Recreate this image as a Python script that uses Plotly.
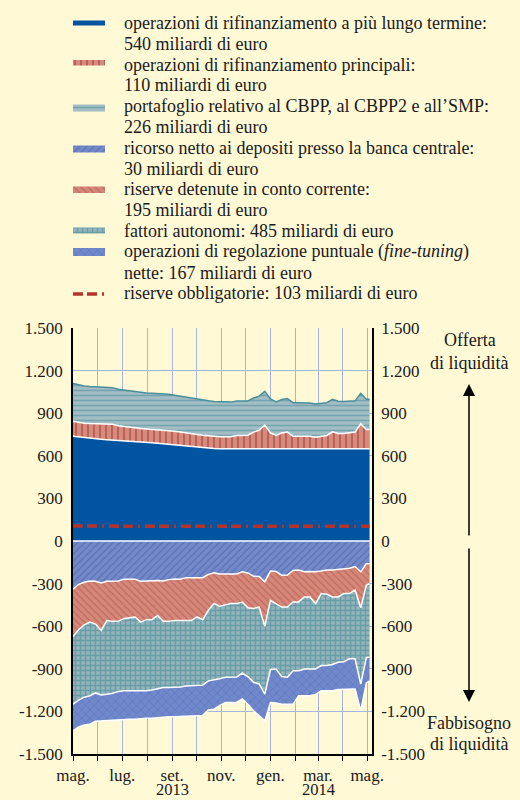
import plotly.graph_objects as go
import pandas as pd

# ---------------- data (miliardi di euro) ----------------
dates = list(pd.date_range("2013-05-01", periods=53, freq="7D").strftime("%Y-%m-%d")) + ["2014-05-04"]

ltro = [738, 733, 727, 722, 719, 716, 713, 711, 708, 706,
        704, 701, 699, 696, 692, 688, 684, 680, 676, 672,
        668, 664, 660, 656, 653, 651, 650, 650, 650, 650,
        650, 650, 650, 650, 650, 650, 650, 650, 650, 650,
        650, 650, 650, 650, 650, 650, 650, 650, 650, 650,
        650, 650, 650, 650]
mro = [106, 103, 103, 105, 107, 108, 109, 112, 104, 100,
       98, 96, 93, 93, 94, 96, 98, 100, 97, 95,
       92, 91, 90, 89, 87, 85, 84, 84, 84, 93,
       93, 95, 117, 131, 166, 112, 93, 110, 117, 88,
       88, 88, 88, 81, 85, 93, 119, 107, 107, 110,
       117, 176, 135, 135]
cbpp = [265, 263, 262, 261, 260, 259, 258, 257, 256, 256,
        255, 255, 255, 254, 254, 254, 253, 253, 253, 252,
        252, 251, 250, 249, 248, 247, 246, 245, 244, 243,
        242, 241, 240, 239, 238, 238, 237, 237, 236, 236,
        236, 235, 234, 233, 232, 231, 229, 227, 226, 224,
        220, 214, 213, 213]
depositi = [340, 305, 290, 281, 283, 295, 283, 280, 281, 270,
            268, 270, 283, 280, 281, 278, 282, 272, 268, 270,
            258, 257, 256, 258, 235, 224, 233, 233, 230, 232,
            217, 225, 248, 250, 288, 212, 215, 241, 240, 208,
            205, 217, 215, 217, 212, 205, 205, 200, 193, 192,
            180, 217, 160, 160]
conto_corrente = [332, 320, 300, 290, 302, 335, 277, 286, 285, 277,
                  272, 265, 288, 274, 273, 246, 284, 294, 291, 289,
                  301, 302, 279, 296, 253, 216, 227, 220, 211, 209,
                  213, 245, 227, 215, 312, 206, 225, 224, 225, 221,
                  224, 177, 179, 224, 158, 170, 189, 194, 177, 178,
                  165, 253, 150, 140]
fattori_autonomi = [477, 495, 510, 519, 485, 455, 520, 507, 494, 507,
                    514, 519, 485, 500, 496, 516, 465, 465, 472, 469,
                    463, 460, 484, 461, 497, 539, 510, 507, 519, 517,
                    500, 485, 520, 542, 478, 487, 461, 490, 495, 484,
                    484, 507, 507, 460, 507, 502, 476, 460, 480, 460,
                    485, 537, 510, 519]
fine_tuning = [188, 190, 195, 200, 200, 182, 188, 192, 198, 201,
               201, 201, 194, 194, 198, 205, 207, 207, 207, 208,
               210, 212, 212, 213, 205, 205, 190, 177, 177, 179,
               183, 195, 201, 223, 189, 232, 239, 194, 189, 236,
               177, 189, 189, 179, 177, 177, 184, 191, 193, 213,
               213, 189, 180, 166]
riserve_obbl = [105, 105, 105, 105, 105, 105, 105, 105, 105, 105,
                105, 105, 105, 105, 105, 105, 105, 105, 105, 105,
                105, 105, 105, 105, 105, 105, 105, 105, 105, 105,
                104, 104, 104, 104, 104, 104, 104, 104, 104, 104,
                104, 104, 103, 103, 103, 103, 103, 103, 103, 103,
                103, 103, 103, 103]

y_ticks = [1500, 1200, 900, 600, 300, 0, -300, -600, -900, -1200, -1500]
y_ticktext = ["1.500", "1.200", "900", "600", "300", "0", "-300", "-600", "-900", "-1.200", "-1.500"]
x_ticks = ["2013-05-01", "2013-06-01", "2013-07-01", "2013-08-01", "2013-09-01", "2013-10-01",
           "2013-11-01", "2013-12-01", "2014-01-01", "2014-02-01", "2014-03-01", "2014-04-01", "2014-05-01"]
x_ticktext = ["mag.", "", "lug.", "", "set.", "", "nov.", "", "gen.", "", "mar.", "", "mag."]
year_labels = [("2013", "2013-09-01"), ("2014", "2014-03-01")]

legend_lines = [
    "operazioni di rifinanziamento a più lungo termine:",
    "540 miliardi di euro",
    "operazioni di rifinanziamento principali:",
    "110 miliardi di euro",
    "portafoglio relativo al CBPP, al CBPP2 e all’SMP:",
    "226 miliardi di euro",
    "ricorso netto ai depositi presso la banca centrale:",
    "30 miliardi di euro",
    "riserve detenute in conto corrente:",
    "195 miliardi di euro",
    "fattori autonomi: 485 miliardi di euro",
    "operazioni di regolazione puntuale (<i>fine-tuning</i>)",
    "nette: 167 miliardi di euro",
    "riserve obbligatorie: 103 miliardi di euro",
]

# ---------------- styles ----------------
BG = "#FFF9D6"
FONT = "Liberation Serif, Times New Roman, serif"
TXT = "#1a1a1a"
GRID = "#A6B4E0"

styles = {
    "ltro": dict(color="#0054A0"),
    "mro": dict(shape="|", bg="#D48C7E", fg="#A52A22", size=6, sol=0.3),
    "cbpp": dict(shape="-", bg="#A3BDC5", fg="#3F8C98", size=5, sol=0.3),
    "dep": dict(shape="/", bg="#7589C8", fg="#3358A8", size=5, sol=0.22),
    "ca": dict(shape="\\", bg="#D3887A", fg="#B2433A", size=5, sol=0.22),
    "af": dict(shape="+", bg="#94B4BC", fg="#3A8692", size=5, sol=0.5),
    "ft": dict(shape="x", bg="#7189CB", fg="#3A5FB0", size=6, sol=0.2),
}
RES_COLOR = "#B3342C"
RES_DASH = "10px,4px,10px,5px,2px,5px"


def pattern(key):
    s = styles[key]
    return dict(shape=s["shape"], bgcolor=s["bg"], fgcolor=s["fg"], size=s["size"], solidity=s["sol"])


fig = go.Figure()

# positive side
fig.add_trace(go.Scatter(x=dates, y=ltro, stackgroup="pos", mode="lines",
                         line=dict(color="white", width=1.5), fillcolor=styles["ltro"]["color"],
                         hoverinfo="skip", showlegend=False))
fig.add_trace(go.Scatter(x=dates, y=mro, stackgroup="pos", mode="lines",
                         line=dict(color="white", width=1.5), fillcolor=styles["mro"]["bg"],
                         fillpattern=pattern("mro"), hoverinfo="skip", showlegend=False))
fig.add_trace(go.Scatter(x=dates, y=cbpp, stackgroup="pos", mode="lines",
                         line=dict(color="#4A8E9A", width=1.5), fillcolor=styles["cbpp"]["bg"],
                         fillpattern=pattern("cbpp"), hoverinfo="skip", showlegend=False))

# negative side
for key, vals in [("dep", depositi), ("ca", conto_corrente), ("af", fattori_autonomi), ("ft", fine_tuning)]:
    fig.add_trace(go.Scatter(x=dates, y=[-v for v in vals], stackgroup="neg", mode="lines",
                             line=dict(color="white", width=1.5), fillcolor=styles[key]["bg"],
                             fillpattern=pattern(key), hoverinfo="skip", showlegend=False))

# reserve requirements line (on right axis, same scale)
fig.add_trace(go.Scatter(x=dates, y=riserve_obbl, mode="lines", yaxis="y2",
                         line=dict(color=RES_COLOR, width=3.5, dash=RES_DASH),
                         hoverinfo="skip", showlegend=False))

fig.add_hline(y=0, line=dict(color="white", width=1.5), layer="above")

# ---------------- custom legend (pixel overlay axes) ----------------
SW_X0, SW_X1 = 73, 105
swatches = [("ltro", 20.5, 25.5), ("mro", 60, 65.5), ("cbpp", 104.5, 111.5), ("dep", 145.5, 152.5),
            ("ca", 186.5, 193), ("af", 227.5, 233.5), ("ft", 248, 256)]
for key, y0, y1 in swatches:
    kw = dict(fillcolor=styles[key]["color"]) if key == "ltro" else dict(fillcolor=styles[key]["bg"], fillpattern=pattern(key))
    fig.add_trace(go.Scatter(x=[SW_X0, SW_X1, SW_X1, SW_X0, SW_X0], y=[y0, y0, y1, y1, y0],
                             xaxis="x3", yaxis="y3", mode="lines", fill="toself",
                             line=dict(width=0, color="rgba(0,0,0,0)"),
                             hoverinfo="skip", showlegend=False, **kw))
fig.add_trace(go.Scatter(x=[SW_X0, 109], y=[294, 294], xaxis="x3", yaxis="y3", mode="lines",
                         line=dict(color=RES_COLOR, width=3.5, dash=RES_DASH),
                         hoverinfo="skip", showlegend=False))

annotations = []
for i, t in enumerate(legend_lines):
    annotations.append(dict(x=122, y=23 + 20.8 * i, xref="x3", yref="y3", text=t, showarrow=False,
                            xanchor="left", yanchor="middle", font=dict(family=FONT, size=18, color=TXT)))
for t, x, y in [("Offerta", 470, 340), ("di liquidità", 469, 363),
                ("Fabbisogno", 469, 723), ("di liquidità", 469, 744)]:
    annotations.append(dict(x=x, y=y, xref="x3", yref="y3", text=t, showarrow=False,
                            xanchor="center", yanchor="middle", font=dict(family=FONT, size=18, color=TXT)))
for t, xd in year_labels:
    annotations.append(dict(x=xd, y=800, xref="x", yref="y3", text=t, showarrow=False, borderpad=0,
                            xanchor="center", yanchor="bottom", font=dict(family=FONT, size=16.5, color=TXT)))
annotations.append(dict(x=469, y=384, ax=469, ay=537, xref="x3", yref="y3", axref="x3", ayref="y3",
                        text="", showarrow=True, arrowhead=2, arrowsize=1.6, arrowwidth=1.5, arrowcolor="black"))
annotations.append(dict(x=469, y=702, ax=469, ay=547, xref="x3", yref="y3", axref="x3", ayref="y3",
                        text="", showarrow=True, arrowhead=2, arrowsize=1.6, arrowwidth=1.5, arrowcolor="black"))

W, H = 520, 800
L, R, T, B = 73, 372, 328, 754

fig.update_layout(
    width=W, height=H,
    margin=dict(l=0, r=0, t=0, b=0),
    paper_bgcolor=BG, plot_bgcolor="rgba(0,0,0,0)",
    showlegend=False,
    annotations=annotations,
    xaxis=dict(domain=[L / W, R / W], type="date", range=["2013-05-01", "2014-05-07"],
               tickmode="array", tickvals=x_ticks, ticktext=x_ticktext,
               showgrid=True, gridcolor=GRID, gridwidth=1,
               ticks="outside", ticklen=5, tickcolor="black", tickwidth=1.2,
               showline=True, linecolor="black", linewidth=1.5, zeroline=False,
               tickfont=dict(family=FONT, size=17, color=TXT), ticklabelstandoff=0,
               automargin=False, fixedrange=True),
    yaxis=dict(domain=[(H - B) / H, (H - T) / H], range=[-1500, 1500],
               tickmode="array", tickvals=y_ticks, ticktext=y_ticktext,
               showgrid=True, gridcolor=GRID, gridwidth=1, zeroline=False,
               showline=True, linecolor="black", linewidth=1.5, ticks="",
               tickfont=dict(family=FONT, size=17, color=TXT), ticklabelstandoff=5,
               automargin=False, fixedrange=True),
    yaxis2=dict(overlaying="y", side="right", anchor="x", range=[-1500, 1500],
                tickmode="array", tickvals=y_ticks, ticktext=y_ticktext,
                showgrid=False, zeroline=False, showline=True, linecolor="black", linewidth=1.5,
                ticks="", tickfont=dict(family=FONT, size=17, color=TXT), ticklabelstandoff=4,
                automargin=False, fixedrange=True),
    xaxis3=dict(domain=[0, 1], range=[0, W], visible=False, anchor="y3", fixedrange=True),
    yaxis3=dict(domain=[0, 1], range=[H, 0], visible=False, anchor="x3", fixedrange=True),
)

fig.write_html("out.html", config={"displayModeBar": False},
               post_script="document.body.style.margin='0';document.body.style.overflow='hidden';")
